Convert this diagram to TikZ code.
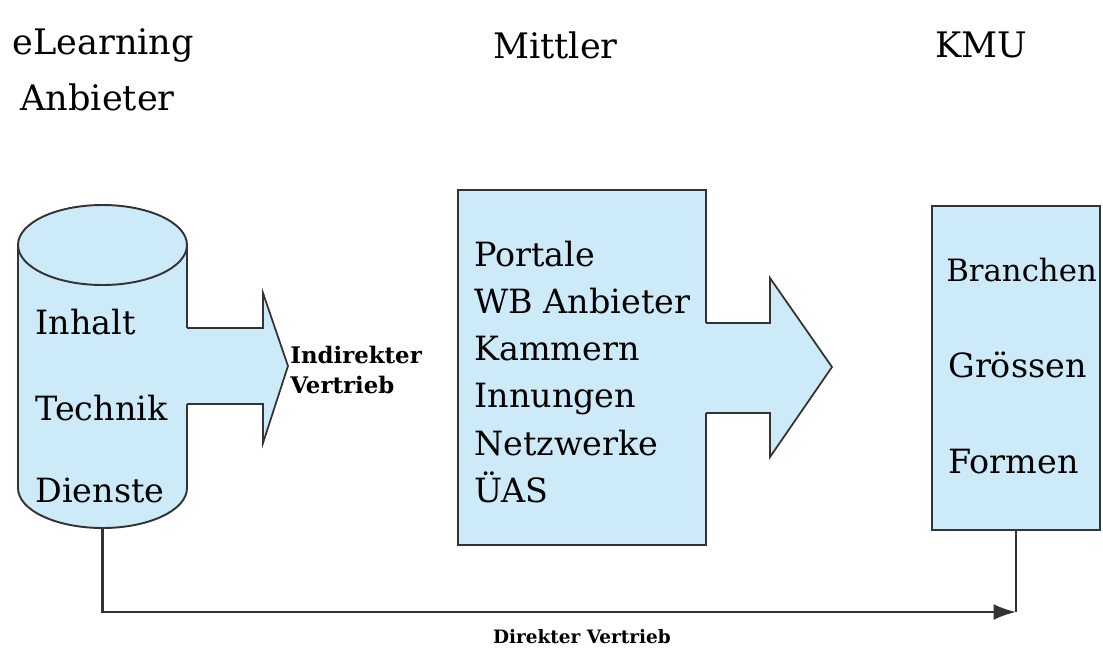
\documentclass[tikz,border=0pt]{standalone}
\usepackage{fontspec}
\setmainfont{DejaVu Serif}
\usetikzlibrary{arrows.meta, fit}
\usepackage{xcolor}
\definecolor{paneblue}{HTML}{CDEAF8}
\definecolor{paneline}{HTML}{333333}

\begin{document}
\begin{tikzpicture}[x=0.02cm, y=-0.02cm,
      box/.style={rectangle, draw=paneline, line width=1.6pt, fill=paneblue, inner sep=0pt},
      head/.style={font=\fontsize{20}{24}\selectfont, inner sep=0pt, anchor=west},
      item/.style={font=\fontsize{19}{23}\selectfont, inner sep=0pt, anchor=west},
      note/.style={font=\bfseries\fontsize{13}{17}\selectfont, inner sep=0pt},
      flowline/.style={draw=paneline, line width=1pt, line join=miter},
      link/.style={-{Latex[length=4.5mm, width=3.2mm]}, line width=1.3pt, paneline},
    ]
    \useasboundingbox (0,0) rectangle (1103,650);

    % column heads
    \node[head] (hanb) at (12,45) {eLearning};
    \node[head] (hanb2) at (20,97) {Anbieter};
    \node[head] (hmit) at (493,45) {Mittler};
    \node[head] (hkmu) at (935,45) {KMU};

    % Anbieter: cylinder
    \fill[paneblue] (18,245) -- (18,488) arc (180:0:84.5 and 40) -- (187,245) -- cycle;
    \draw[paneline, line width=1.1pt] (18,245) -- (18,488) arc (180:0:84.5 and 40) -- (187,245);
    \draw[paneline, line width=1.1pt, fill=paneblue] (102.5,245) ellipse (84.5 and 40);
    \coordinate (cylbase) at (102.5,528);

    % Mittler and KMU boxes
    \node[box, fit={(458,190) (706,545)}] (mittler) {};
    \node[box, fit={(932,206) (1100,530)}] (kmu) {};

    % block arrows
    \fill[paneblue] (184,328) -- (263,328) -- (263,293) -- (288,366) -- (263,443) -- (263,404) -- (184,404) -- cycle;
    \draw[flowline] (187,328) -- (263,328) -- (263,293) -- (288,366) -- (263,443) -- (263,404) -- (187,404);
    \fill[paneblue] (702,323) -- (770,323) -- (770,278) -- (832,367) -- (770,457) -- (770,413) -- (702,413) -- cycle;
    \draw[flowline] (706,323) -- (770,323) -- (770,278) -- (832,367) -- (770,457) -- (770,413) -- (706,413);

    % texts
    \node[item] (inhalt) at (35,322) {Inhalt};
    \node[item] (technik) at (35,408) {Technik};
    \node[item] (dienste) at (35,490) {Dienste};

    \node[item, align=left, font=\fontsize{19}{26.8}\selectfont] (mlist) at (474,372) {Portale\\WB Anbieter\\Kammern\\Innungen\\Netzwerke\\ÜAS};

    \node[item, font=\fontsize{17.5}{21}\selectfont] (branchen) at (946,270) {Branchen};
    \node[item] (groessen) at (948,365) {Grössen};
    \node[item] (formen) at (948,462) {Formen};

    \node[note, anchor=west, align=left] (indirekt) at (290,370) {Indirekter\\Vertrieb};

    % direct sales line
    \coordinate (corner) at (kmu.south |- 0,612);
    \draw[line width=1.3pt, paneline] (kmu.south) -- (corner);
    \draw[link] (cylbase) |- (corner);
    \node[note, font=\bfseries\fontsize{10.5}{12}\selectfont] (direkt) at (582,637) {Direkter Vertrieb};
  \end{tikzpicture}
\end{document}
